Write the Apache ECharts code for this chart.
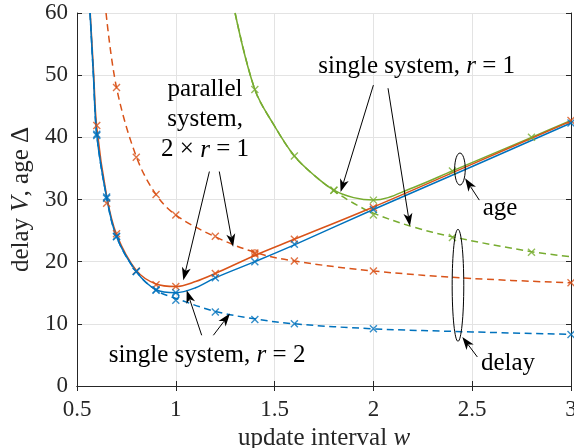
<!DOCTYPE html>
<html><head><meta charset="utf-8">
<script src="https://cdn.jsdelivr.net/npm/echarts@6/dist/echarts.min.js"></script>
<style>html,body{margin:0;padding:0;background:#fff}#c{width:574px;height:448px}</style>
</head><body><div id="c"></div>
<script>
// ---- data ----
// Curves (analytic lines)
const ageR2X = [0.566, 0.583, 0.6, 0.65, 0.7, 0.8, 0.9, 1.0, 1.1, 1.2, 1.4, 1.6, 2.0, 2.5, 3.0];
const ageR2Y = [60, 50, 40.4, 30.3, 24.0, 18.4, 15.5, 15.0, 15.8, 17.4, 20.0, 22.7, 28.4, 35.3, 42.3];
const delayR2X = [0.566, 0.583, 0.6, 0.65, 0.7, 0.8, 0.9, 1.0, 1.2, 1.4, 1.6, 2.0, 2.5, 3.0];
const delayR2Y = [60, 50, 40.4, 30.3, 24.0, 18.4, 15.4, 14.1, 12.0, 10.8, 10.0, 9.2, 8.7, 8.3];
const agePX = [0.567, 0.584, 0.6, 0.65, 0.7, 0.8, 0.9, 1.0, 1.1, 1.2, 1.4, 1.6, 2.0, 2.5, 3.0];
const agePY = [60, 50.5, 41.6, 30.6, 24.4, 18.6, 16.4, 16.0, 16.8, 18.1, 21.0, 23.6, 28.8, 35.7, 42.6];
const delayPX = [0.647, 0.7, 0.8, 0.9, 1.0, 1.2, 1.4, 1.6, 2.0, 2.5, 3.0];
const delayPY = [60, 48.0, 36.9, 30.8, 27.5, 24.0, 21.5, 20.1, 18.5, 17.3, 16.6];
const ageR1X = [1.30, 1.4, 1.5, 1.6, 1.7, 1.8, 1.9, 2.0, 2.2, 2.4, 2.8, 3.0];
const ageR1Y = [60, 47.7, 41.8, 37.0, 33.9, 31.5, 30.3, 29.9, 31.9, 34.6, 40.0, 42.7];
const delayR1X = [1.30, 1.4, 1.5, 1.6, 1.7, 1.8, 1.9, 2.0, 2.2, 2.4, 2.8, 3.0];
const delayR1Y = [60, 47.7, 41.8, 37.0, 33.9, 31.4, 29.4, 27.8, 25.6, 24.0, 21.6, 20.8];
// Simulation markers (x)
const mAgeR2X = [0.6, 0.65, 0.7, 0.8, 0.9, 1.0, 1.2, 1.4, 1.6, 2.0, 3.0];
const mAgeR2Y = [40.3, 30.2, 24.0, 18.4, 15.4, 15.0, 17.4, 20.0, 22.8, 28.4, 42.3];
const mAgePX = [0.6, 0.65, 0.7, 0.8, 0.9, 1.0, 1.2, 1.4, 1.6, 2.0, 3.0];
const mAgePY = [41.9, 29.4, 24.5, 18.5, 16.3, 16.0, 18.1, 21.2, 23.6, 28.7, 42.7];
const mDelayR2X = [0.6, 0.65, 0.7, 0.8, 0.9, 1.0, 1.2, 1.4, 1.6, 2.0, 3.0];
const mDelayR2Y = [40.5, 30.4, 24.1, 18.4, 15.5, 13.8, 11.9, 10.7, 10.0, 9.2, 8.3];
const mDelayPX = [0.7, 0.8, 0.9, 1.0, 1.2, 1.4, 1.6, 2.0, 3.0];
const mDelayPY = [48.0, 36.8, 30.8, 27.5, 24.1, 21.4, 20.1, 18.5, 16.6];
const mAgeR1X = [1.4, 1.6, 1.8, 2.0, 2.4, 2.8];
const mAgeR1Y = [47.7, 37.0, 31.5, 29.9, 34.6, 40.0];
const mDelayR1X = [1.8, 2.0, 2.4, 2.8];
const mDelayR1Y = [31.5, 27.5, 23.9, 21.5];
// circle markers
const oBlue = [[1.0, 14.5]];
const oOrange = [[1.4, 21.4]];

const BLUE = '#0072BD', ORANGE = '#D95319', GREEN = '#77AC30';
const FONT = 'Liberation Serif';
const TICK = 23, TXT = 25;
const zip = (a, b) => a.map((v, i) => [v, b[i]]);
const X = 'path://M0,0L10,10M10,0L0,10';

function curve(xs, ys, color, dashed) {
  return { type: 'line', data: zip(xs, ys), smooth: 0.35, symbol: 'none', z: 3,
    lineStyle: { color, width: 1.5, type: dashed ? [7, 4.5] : 'solid' } };
}
function marks(xs, ys, color) {
  return { type: 'scatter', data: zip(xs, ys), symbol: X, symbolSize: 7, z: 4,
    itemStyle: { color: 'rgba(0,0,0,0)', borderColor: color, borderWidth: 1.4 } };
}
function circ(d, color) {
  return { type: 'scatter', data: d, symbol: 'circle', symbolSize: 6, z: 4,
    itemStyle: { color: 'rgba(0,0,0,0)', borderColor: color, borderWidth: 1.2 } };
}

const chart = echarts.init(document.getElementById('c'));
const axCol = '#262626';
const nameStyle = { fontFamily: FONT, fontSize: TXT, color: '#262626',
  rich: { i: { fontFamily: FONT, fontSize: TXT, fontStyle: 'italic', color: '#262626' } } };
chart.setOption({
  animation: false,
  grid: { left: 77, right: 3, top: 13, bottom: 62, containLabel: false, outerBoundsMode: 'none' },
  xAxis: [{
    type: 'value', min: 0.5, max: 3, interval: 0.5,
    name: 'update interval {i|w}', nameLocation: 'middle', nameGap: 36,
    nameTextStyle: nameStyle,
    axisLine: { lineStyle: { color: axCol, width: 1 } },
    axisTick: { inside: true, length: 5, lineStyle: { color: axCol } },
    axisLabel: { fontFamily: FONT, fontSize: TICK, color: '#262626', margin: 12 },
    splitLine: { lineStyle: { color: '#e3e3e3', width: 1 } }
  }, {
    type: 'value', min: 0.5, max: 3, interval: 0.5, position: 'top',
    axisLine: { lineStyle: { color: axCol, width: 1 } },
    axisTick: { inside: true, length: 5, lineStyle: { color: axCol } },
    axisLabel: { show: false }, splitLine: { show: false }
  }],
  yAxis: [{
    type: 'value', min: 0, max: 60, interval: 10,
    name: 'delay {i|V}, age Δ', nameLocation: 'middle', nameGap: 43, nameRotate: 90,
    nameTextStyle: nameStyle,
    axisLine: { show: true, lineStyle: { color: axCol, width: 1 } },
    axisTick: { show: true, inside: true, length: 5, lineStyle: { color: axCol } },
    axisLabel: { fontFamily: FONT, fontSize: TICK, color: '#262626', margin: 9 },
    splitLine: { lineStyle: { color: '#e3e3e3', width: 1 } }
  }, {
    type: 'value', min: 0, max: 60, interval: 10, position: 'right',
    axisLine: { show: true, lineStyle: { color: axCol, width: 1 } },
    axisTick: { show: true, inside: true, length: 5, lineStyle: { color: axCol } },
    axisLabel: { show: false }, splitLine: { show: false }
  }],
  series: [
    curve(delayR1X, delayR1Y, GREEN, true),
    curve(ageR1X, ageR1Y, GREEN, false),
    curve(delayPX, delayPY, ORANGE, true),
    curve(agePX, agePY, ORANGE, false),
    curve(delayR2X, delayR2Y, BLUE, true),
    curve(ageR2X, ageR2Y, BLUE, false),
    marks(mDelayR1X, mDelayR1Y, GREEN),
    marks(mAgeR1X, mAgeR1Y, GREEN),
    marks(mDelayPX, mDelayPY, ORANGE),
    marks(mAgePX, mAgePY, ORANGE),
    marks(mDelayR2X, mDelayR2Y, BLUE),
    marks(mAgeR2X, mAgeR2Y, BLUE),
    circ(oBlue, BLUE), circ(oOrange, ORANGE)
  ]
});

// ---- annotations (in data coordinates) ----
const px = (p) => chart.convertToPixel({ gridIndex: 0 }, p);
const g = [];
function arrow(from, to) {
  const a = px(from), b = px(to);
  const dx = b[0] - a[0], dy = b[1] - a[1], L = Math.hypot(dx, dy);
  const ux = dx / L, uy = dy / L, nx = -uy, ny = ux;
  const hl = 13, hw = 4.5, notch = 9.5;
  const n = [b[0] - notch * ux, b[1] - notch * uy];
  g.push({ type: 'line', shape: { x1: a[0], y1: a[1], x2: n[0], y2: n[1] }, style: { stroke: '#000', lineWidth: 1 }, z: 10 });
  g.push({ type: 'polygon', shape: { points: [
    [b[0], b[1]],
    [b[0] - hl * ux + hw * nx, b[1] - hl * uy + hw * ny],
    n,
    [b[0] - hl * ux - hw * nx, b[1] - hl * uy - hw * ny]
  ] }, style: { fill: '#000' }, z: 10 });
}
function label(pos, text, lh) {
  const p = px(pos);
  g.push({ type: 'text', x: p[0], y: p[1], z: 11, style: {
    text, fill: '#000', fontFamily: FONT, fontSize: TXT, align: 'center', verticalAlign: 'middle',
    lineHeight: lh || 28,
    rich: { i: { fontFamily: FONT, fontSize: TXT, fontStyle: 'italic', lineHeight: lh || 28 } }
  } });
}
function ellipse(pos, rx, ry) {
  const p = px(pos);
  g.push({ type: 'ellipse', shape: { cx: p[0], cy: p[1], rx, ry }, style: { fill: 'none', stroke: '#000', lineWidth: 1 }, z: 10 });
}

arrow([1.17, 34.5], [1.038, 17.0]);
arrow([1.22, 34.5], [1.29, 22.4]);
arrow([2.0, 48.4], [1.834, 31.2]);
arrow([2.074, 47.9], [2.185, 25.7]);
arrow([1.131, 8.16], [1.055, 15.4]);
arrow([1.19, 8.16], [1.274, 11.66]);
arrow([2.536, 29.9], [2.464, 33.4]);
arrow([2.526, 4.67], [2.45, 7.9]);
ellipse([2.438, 34.9], 5.3, 16);
ellipse([2.428, 16.2], 5.8, 56);
label([1.148, 42.8], 'parallel\nsystem,\n2 × {i|r} = 1', 30);
label([2.219, 51.4], 'single system, {i|r} = 1');
label([1.158, 4.94], 'single system, {i|r} = 2');
label([2.641, 28.6], 'age');
label([2.681, 3.66], 'delay');
chart.setOption({ graphic: g });
</script></body></html>
